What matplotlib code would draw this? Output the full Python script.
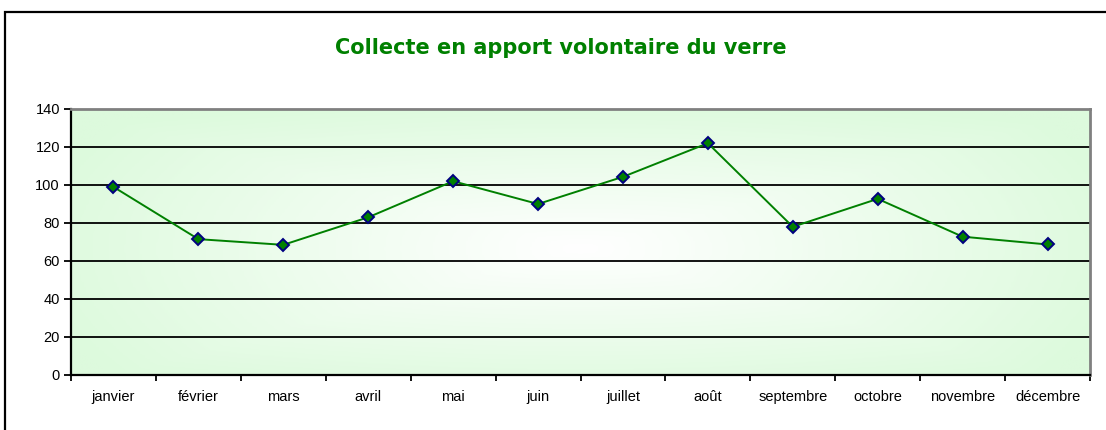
import numpy as np
import matplotlib
matplotlib.use('Agg')
import matplotlib.pyplot as plt
from matplotlib.colors import LinearSegmentedColormap
from matplotlib.patches import Rectangle

plt.rcParams['font.family'] = ['Liberation Sans', 'DejaVu Sans']

months = ['janvier', 'février', 'mars', 'avril', 'mai', 'juin', 'juillet',
          'août', 'septembre', 'octobre', 'novembre', 'décembre']
tonnes = [99, 71.5, 68.5, 83, 102, 90, 104.3, 122, 78, 92.7, 72.8, 68.7]
y_ticks = [0, 20, 40, 60, 80, 100, 120, 140]
title = 'Collecte en apport volontaire du verre'

W, H = 1106, 430
fig = plt.figure(figsize=(W / 100, H / 100), dpi=100)

# outer chart border (right/bottom lie outside the picture)
fig.patches.append(Rectangle((5 / W, -0.1), 1.2, (H - 12) / H + 0.1,
                             transform=fig.transFigure, fill=False,
                             edgecolor='black', linewidth=1.6))

left, right, top, bottom = 71, 1090, 109, 375
ax = fig.add_axes([left / W, (H - bottom) / H, (right - left) / W, (bottom - top) / H])

# background gradient, white in the middle, pale green at the edges
gx = np.linspace(-1, 1, 400)
gy = np.linspace(-1, 1, 200)
X, Y = np.meshgrid(gx, gy)
cx, cy = 0.0, -0.05
d = np.maximum(np.abs(X - cx) / 1.0, np.abs(Y - cy) / 1.05)
d = 0.5 * d + 0.5 * np.sqrt(((X - cx) / 1.0) ** 2 + ((Y - cy) / 1.05) ** 2) / 1.2
d = np.clip(d, 0, 1)
cmap = LinearSegmentedColormap.from_list('bg', ['#ffffff', '#ddfadd'])
ax.imshow(d, cmap=cmap, extent=[-0.5, 11.5, 0, 140], aspect='auto',
          origin='lower', zorder=0, vmin=0, vmax=1)

x = np.arange(len(months))
ax.plot(x, tonnes, color='#008000', linewidth=1.4, marker='D', markersize=6,
        markerfacecolor='#008000', markeredgecolor='#000080', markeredgewidth=1.4,
        zorder=3)

ax.set_xlim(-0.5, 11.5)
ax.set_ylim(0, 140)
ax.set_yticks(y_ticks)
ax.set_yticklabels([str(v) for v in y_ticks], fontsize=10.5)
for v in y_ticks[1:-1]:
    ax.axhline(v, color='black', linewidth=1.3, zorder=1)

ax.set_xticks(x)
ax.set_xticklabels(months, fontsize=10.5)
ax.set_xticks(np.arange(-0.5, 12, 1), minor=True)
ax.tick_params(axis='x', which='major', length=0, pad=11)
ax.tick_params(axis='x', which='minor', length=4, width=1.3, direction='out')
ax.tick_params(axis='y', length=5, width=1.3, direction='out', pad=3)

for s in ['left', 'bottom']:
    ax.spines[s].set_color('black')
    ax.spines[s].set_linewidth(1.6)
for s in ['top', 'right']:
    ax.spines[s].set_color('#808080')
    ax.spines[s].set_linewidth(2)

fig.text(561 / W, 1 - 48 / H, title, ha='center', va='center', color='#008000',
         fontsize=15, fontweight='bold', family=['DejaVu Sans'])

fig.savefig('out.png', dpi=100)
